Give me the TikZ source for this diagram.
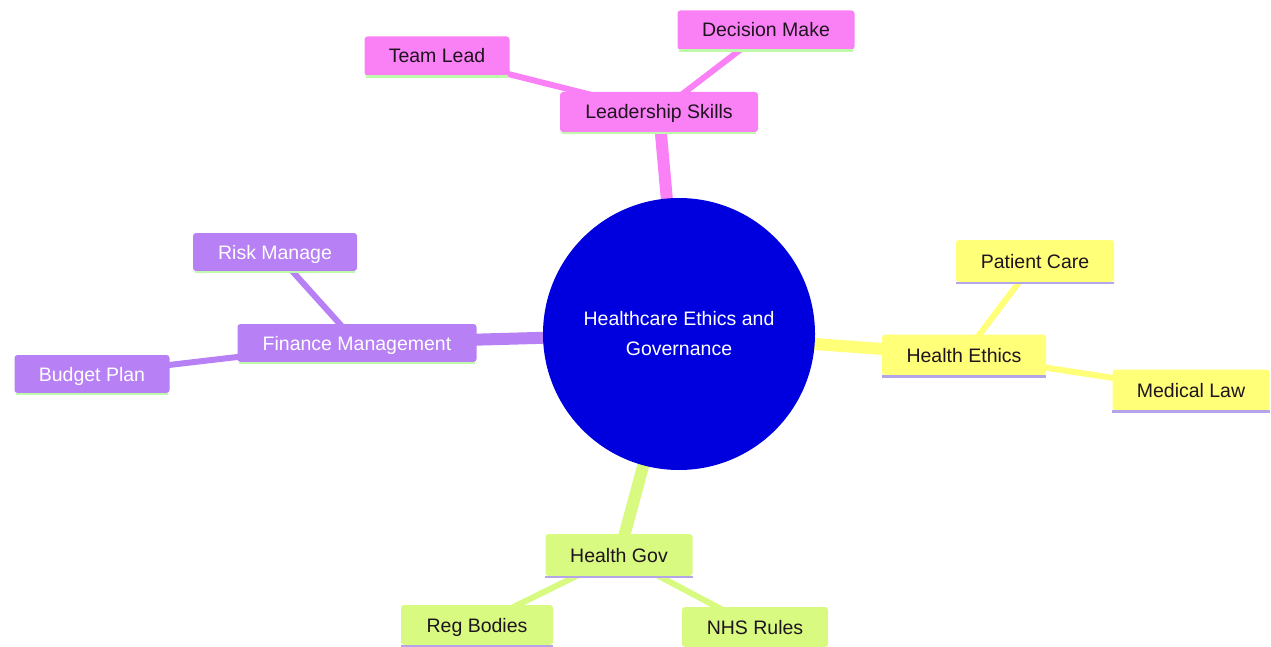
\documentclass[tikz,border=0pt]{standalone}
\usepackage{fontspec}
\setmainfont{Liberation Sans}
\usetikzlibrary{backgrounds}
\definecolor{cpink}{RGB}{250,128,245}
\definecolor{cpurple}{RGB}{183,128,245}
\definecolor{cyellow}{RGB}{255,255,120}
\definecolor{clime}{RGB}{216,250,128}
\definecolor{cblue}{RGB}{0,0,222}
\definecolor{ulgreen}{RGB}{190,250,170}
\definecolor{ulpurple}{RGB}{180,165,235}
\definecolor{txtdark}{RGB}{30,20,30}
\begin{document}
\begin{tikzpicture}[x=1pt,y=-1pt,
  box/.style={rectangle,rounded corners=3pt,inner sep=0pt,text height=15pt,text depth=1pt,font=\fontsize{19.5}{23}\selectfont,text=txtdark},
  pinkbox/.style={box,fill=cpink},
  purplebox/.style={box,fill=cpurple,text=white},
  yellowbox/.style={box,fill=cyellow},
  limebox/.style={box,fill=clime},
  mainedge/.style={line width=12pt},
  subedge/.style={line width=6pt},
  ul/.style={line width=2.5pt}
]
\useasboundingbox (0,0) rectangle (1271,647);

% central node
\node[circle,minimum size=272pt,inner sep=0pt,fill=cblue,text=white,align=center,
      font=\fontsize{19.5}{30}\selectfont] (c) at (679,334) {Healthcare Ethics and\\Governance};

% nodes
\node[pinkbox,minimum width=198pt,minimum height=40pt] (L) at (659,112) {Leadership Skills};
\node[pinkbox,minimum width=145pt,minimum height=39pt] (TL) at (437,56) {Team Lead};
\node[pinkbox,minimum width=177pt,minimum height=39pt] (DM) at (766,30) {Decision Make};
\node[purplebox,minimum width=239pt,minimum height=38pt] (F) at (357,343) {Finance Management};
\node[purplebox,minimum width=164pt,minimum height=38pt] (RM) at (275,252) {Risk Manage};
\node[purplebox,minimum width=155pt,minimum height=38pt] (BP) at (92,374) {Budget Plan};
\node[yellowbox,minimum width=164pt,minimum height=41pt] (HE) at (964,355) {Health Ethics};
\node[yellowbox,minimum width=158pt,minimum height=42pt] (PC) at (1035,261) {Patient Care};
\node[yellowbox,minimum width=157pt,minimum height=41pt] (ML) at (1191,390) {Medical Law};
\node[limebox,minimum width=147pt,minimum height=42pt] (HG) at (619,555) {Health Gov};
\node[limebox,minimum width=152pt,minimum height=40pt] (RB) at (477,625) {Reg Bodies};
\node[limebox,minimum width=146pt,minimum height=40pt] (NR) at (755,627) {NHS Rules};

% bottom accent lines
\foreach \n in {L,TL,DM,F,RM,BP}
  \draw[ul,ulgreen] ([xshift=2pt,yshift=-1pt]\n.south west) -- ([xshift=-2pt,yshift=-1pt]\n.south east);
\foreach \n in {HE,PC,ML,HG,RB,NR}
  \draw[ul,ulpurple] ([xshift=0pt,yshift=-1pt]\n.south west) -- ([xshift=0pt,yshift=-1pt]\n.south east);

% connectors behind nodes
\begin{pgfonlayer}{background}
  \draw[mainedge,cpink] (c.center) -- (L.center);
  \draw[subedge,cpink] (L.center) -- (TL.center);
  \draw[subedge,cpink] (L.center) -- (DM.center);
  \draw[mainedge,cpurple] (c.center) -- (F.center);
  \draw[subedge,cpurple] (F.center) -- (RM.center);
  \draw[subedge,cpurple] (F.center) -- (BP.center);
  \draw[mainedge,cyellow] (c.center) -- (HE.center);
  \draw[subedge,cyellow] (HE.center) -- (PC.center);
  \draw[subedge,cyellow] (HE.center) -- (ML.center);
  \draw[mainedge,clime] (c.center) -- (HG.center);
  \draw[subedge,clime] (HG.center) -- (RB.center);
  \draw[subedge,clime] (HG.center) -- (NR.center);
\end{pgfonlayer}
\end{tikzpicture}
\end{document}
